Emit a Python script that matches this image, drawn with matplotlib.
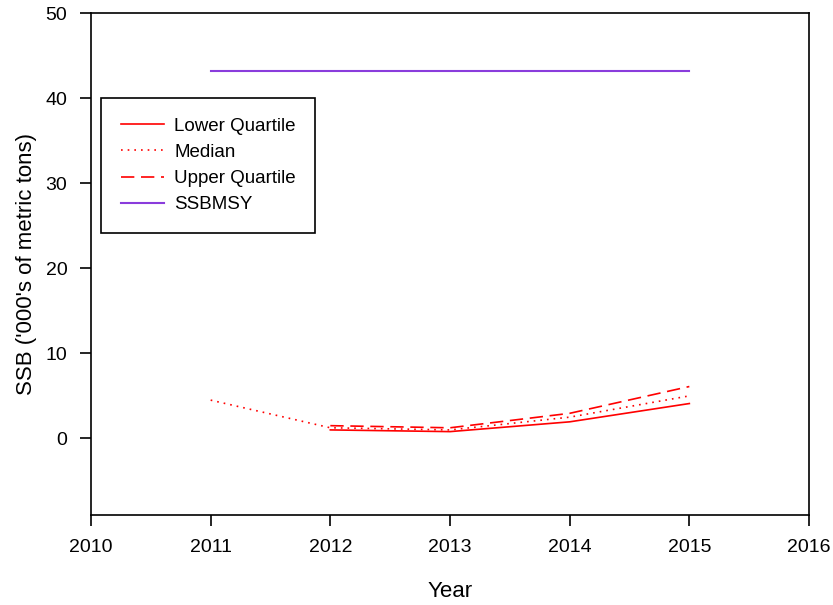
import matplotlib.pyplot as plt

plt.rcParams['font.family'] = ['Liberation Sans', 'DejaVu Sans']

years = [2011, 2012, 2013, 2014, 2015]
median = [4.5, 1.25, 1.0, 2.5, 5.0]
q_years = [2012, 2013, 2014, 2015]
lower_q = [1.0, 0.8, 1.95, 4.1]
upper_q = [1.5, 1.25, 2.95, 6.1]
ssbmsy = [43.2, 43.2, 43.2, 43.2, 43.2]

fig = plt.figure(figsize=(8.33, 6.05), dpi=100)
ax = fig.add_axes([91 / 833, 1 - 515 / 605, 718 / 833, 502 / 605])

ax.plot(q_years, lower_q, color='#ff0000', lw=1.2, ls='-', label='Lower Quartile')
ax.plot(years, median, color='#ff0000', lw=1.2, ls=(0, (1, 3)), label='Median')
ax.plot(q_years, upper_q, color='#ff0000', lw=1.2, ls=(0, (8, 4)), label='Upper Quartile')
ax.plot(years, ssbmsy, color='#8a3cdc', lw=1.5, label='SSBMSY')

ax.set_xlim(2010, 2016)
ax.set_ylim(-9, 50)
ax.set_xticks(range(2010, 2017))
ax.set_yticks([0, 10, 20, 30, 40, 50])
ax.tick_params(direction='out', length=8, width=1.2, labelsize=14, pad=9)
for s in ax.spines.values():
    s.set_linewidth(1.2)

ax.set_xlabel('Year', fontsize=16, labelpad=18)
ax.set_ylabel("SSB ('000's of metric tons)", fontsize=16, labelpad=6)

leg = ax.legend(loc='upper left', bbox_to_anchor=(10 / 718, 417 / 502), fontsize=13.5,
                fancybox=False, framealpha=1, edgecolor='black', handlelength=2.3,
                handletextpad=0.55, borderpad=1.05, labelspacing=0.48, borderaxespad=0)
leg.get_frame().set_linewidth(1.2)

fig.savefig('out.png', dpi=100)
